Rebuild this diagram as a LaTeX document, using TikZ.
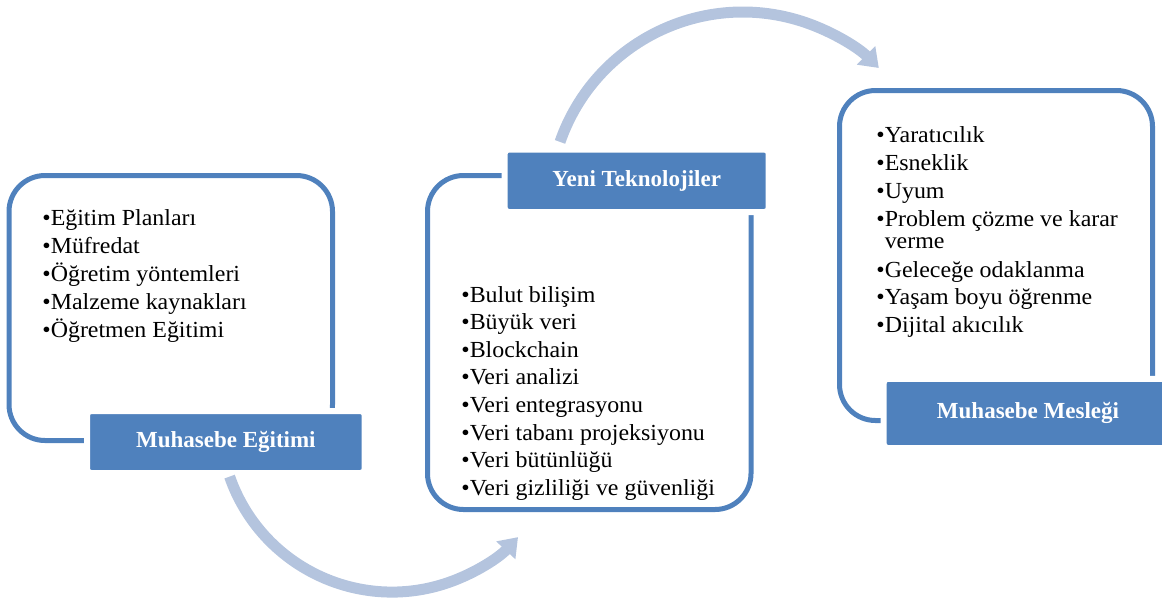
\documentclass[tikz,border=0pt]{standalone}
\usepackage{fontspec}
\setmainfont{Liberation Serif}[UprightFeatures={FakeStretch=1.04}]
\usetikzlibrary{arrows.meta}
\definecolor{boxblue}{RGB}{79,129,189}
\definecolor{arrowblue}{RGB}{180,196,222}
\newcommand{\listfont}{\fontsize{11.5pt}{14pt}\selectfont}
\tikzset{
    boxframe/.style={draw=boxblue, line width=2.5pt, rounded corners=18pt},
    titlebox/.style={fill=boxblue, draw=white, line width=3pt, rounded corners=2pt,
        text=white, inner sep=0pt, font=\listfont\bfseries},
    listitem/.style={anchor=base west, inner sep=0pt, font=\listfont},
    flowarrow/.style={draw=arrowblue, line width=5.5pt, -{Triangle[width=12.5pt, length=9pt]}},
    common settings/.style={x=0.5pt, y=-0.5pt}
}

\begin{document}
\begin{tikzpicture}[common settings]
    \useasboundingbox (0,0) rectangle (1162,601);

    % 1. Frames round the three lists
    \draw[boxframe] (9,175.5) rectangle (332.5,440.5);
    \draw[boxframe] (427.5,175.5) rectangle (751,509.5);
    \draw[boxframe] (839.5,90.5) rectangle (1152.5,420.5);

    % 2. Title boxes (white edge cuts the frame)
    \node[titlebox, minimum width=138.85pt, minimum height=31pt] (egitim) at (225.85,442) {Muhasebe Eğitimi};
    \node[titlebox, minimum width=132pt, minimum height=31.25pt] (teknoloji) at (636.7,180.75) {Yeni Teknolojiler};
    \node[titlebox, minimum width=144.3pt, minimum height=34.65pt] (meslek) at (1028,413.4) {Muhasebe Mesleği};

    % 3. Lists
    \foreach \txt [count=\i from 0] in {Eğitim Planları, Müfredat, Öğretim yöntemleri,
        Malzeme kaynakları, Öğretmen Eğitimi}
        \node[listitem] (egitim-\i) at (42,225+28*\i) {•\txt};

    \foreach \txt [count=\i from 0] in {Bulut bilişim, Büyük veri, Blockchain, Veri analizi,
        Veri entegrasyonu, Veri tabanı projeksiyonu, Veri bütünlüğü, Veri gizliliği ve güvenliği}
        \node[listitem] (teknoloji-\i) at (461,302+27.6*\i) {•\txt};

    \foreach \y/\txt [count=\i from 0] in {142/Yaratıcılık, 170/Esneklik, 198/Uyum,
        226/Problem çözme ve karar, 277/Geleceğe odaklanma, 304/Yaşam boyu öğrenme,
        332/Dijital akıcılık}
        \node[listitem] (meslek-\i) at (876,\y) {•\txt};
    \node[listitem] (meslek-wrap) at (876,248) {\phantom{•}verme};

    % 4. Curved arrows between the stages
    \coordinate (alt-start) at (229.6,476.6);
    \draw[flowarrow] (alt-start) arc[start angle=160.8, end angle=42.9, radius=172];

    \coordinate (ust-start) at (560,141.9);
    \draw[flowarrow] (ust-start) arc[start angle=-160.8, end angle=-45.3, radius=193.5];

\end{tikzpicture}
\end{document}
